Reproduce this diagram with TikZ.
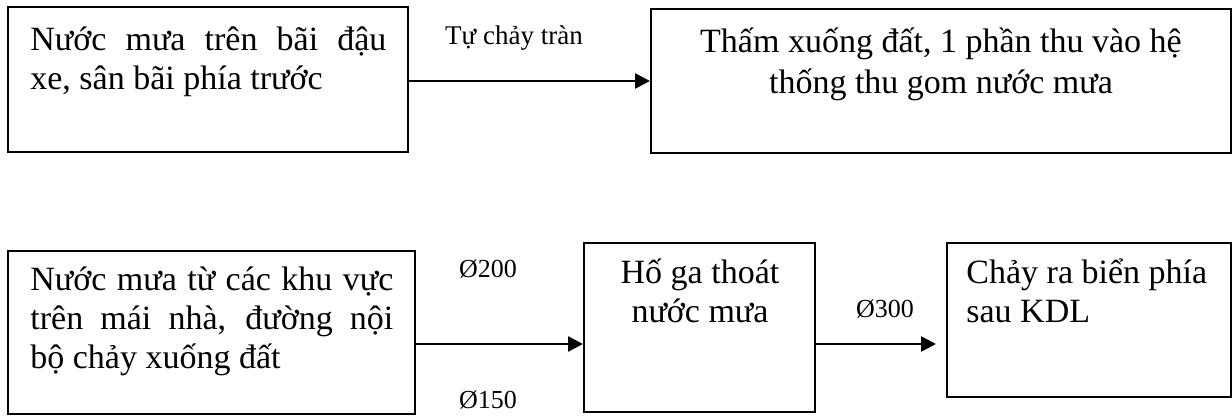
\documentclass[tikz,border=0pt]{standalone}
\usepackage{fontspec}
\setmainfont{Liberation Serif}
\usetikzlibrary{arrows.meta}
\begin{document}
\begin{tikzpicture}[x=0.5pt,y=-0.5pt,
  box/.style={draw, line width=1pt, inner sep=0pt},
  boxtext/.style={inner sep=0pt, font=\fontsize{17}{19.5}\selectfont},
  lbl/.style={inner sep=0pt, anchor=base, font=\fontsize{13}{15}\selectfont},
  arr/.style={line width=1.25pt, -{Triangle[length=7.5pt,width=7.5pt]}}]
\useasboundingbox (0,0) rectangle (1232,416);

% boxes
\node[box, minimum width=200pt, minimum height=72.5pt] (b1) at (208,79.5) {};
\node[box, minimum width=290pt, minimum height=72pt] (b2) at (941,81) {};
\node[box, minimum width=203.5pt, minimum height=81.5pt] (b3) at (211.5,332.5) {};
\node[box, minimum width=115.5pt, minimum height=84.5pt] (b4) at (699.5,327.5) {};
\node[box, minimum width=142pt, minimum height=77pt] (b5) at (1089,320) {};

% box texts
\node[boxtext, anchor=base west] (t1) at (30,51)
  {\parbox[t]{178pt}{\makebox[178pt][s]{Nước mưa trên bãi đậu}\\xe, sân bãi phía trước}};
\node[boxtext, anchor=base] (t2) at (941,53)
  {\parbox[t]{280pt}{\centering\baselineskip=20.5pt Thấm xuống đất, 1 phần thu vào hệ\\thống thu gom nước mưa}};
\node[boxtext, anchor=base west] (t3) at (30,291)
  {\parbox[t]{181.5pt}{\makebox[181.5pt][s]{Nước mưa từ các khu vực}\\\makebox[181.5pt][s]{trên mái nhà, đường nội}\\bộ chảy xuống đất}};
\node[boxtext, anchor=base] (t4) at (700,284)
  {\parbox[t]{110pt}{\centering Hố ga thoát\\nước mưa}};
\node[boxtext, anchor=base west] (t5) at (966,284)
  {\parbox[t]{130pt}{Chảy ra biển phía\\sau KDL}};

% connector labels
\node[lbl, font=\fontsize{13.5}{15}\selectfont] (l1) at (514,45) {Tự chảy tràn};
\node[lbl] (l2) at (488,278) {Ø200};
\node[lbl] (l3) at (488,409) {Ø150};
\node[lbl] (l4) at (885,318) {Ø300};

% connectors
\coordinate (r1) at (0,81);
\coordinate (r2) at (0,344);
\coordinate (r3) at (936,344);
\draw[arr] (b1.east |- r1) -- (b2.west |- r1);
\draw[arr] (b3.east |- r2) -- (b4.west |- r2);
\draw[arr] (b4.east |- r2) -- (r3);
\end{tikzpicture}
\end{document}
